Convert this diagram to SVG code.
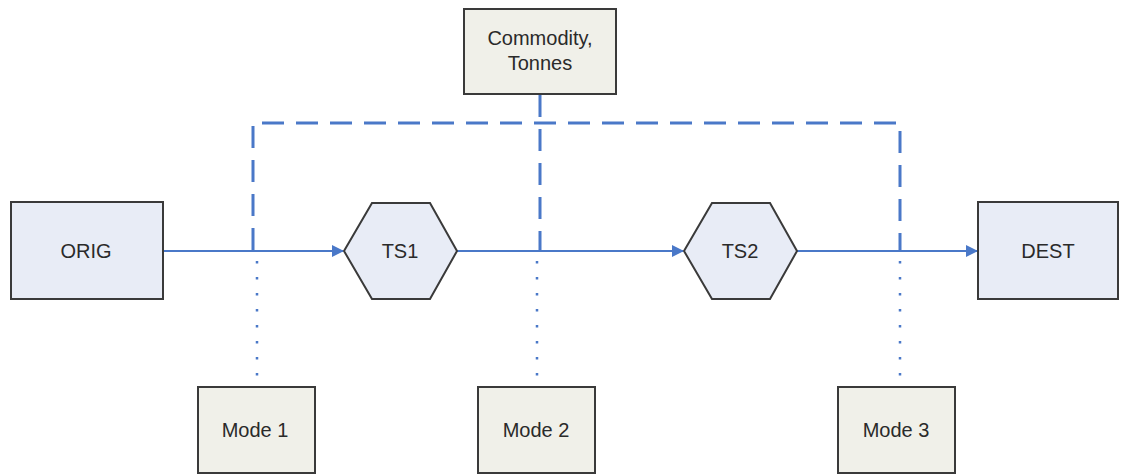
<svg xmlns="http://www.w3.org/2000/svg" width="1122" height="475" viewBox="0 0 1122 475">
<defs>
<style>
.blue{fill:#e8ecf6;stroke:#3a3a3a;stroke-width:2}
.tan{fill:#f0f0e9;stroke:#3a3a3a;stroke-width:2}
text{font-family:"Liberation Sans",Arial,sans-serif;font-size:20px;fill:#2a2a2a;text-anchor:middle}
.flow{stroke:#4a78c8;stroke-width:2;fill:none}
.dash{stroke:#4a78c8;stroke-width:3;fill:none;stroke-dasharray:22 12}
.dot{stroke:#4a78c8;stroke-width:2.5;fill:none;stroke-dasharray:2.5 13.5}
</style>
<marker id="arr" markerWidth="12" markerHeight="12" refX="11" refY="6" orient="auto" markerUnits="userSpaceOnUse">
<path d="M0,0 L12,6 L0,12 Z" fill="#4a78c8"/>
</marker>
</defs>
<rect width="1122" height="475" fill="#ffffff"/>
<g id="connectors">
<path class="flow" d="M163,251 H343" marker-end="url(#arr)"/>
<path class="flow" d="M457,251 H683" marker-end="url(#arr)"/>
<path class="flow" d="M797,251 H977" marker-end="url(#arr)"/>
<path class="dash" d="M540,95 V252"/>
<path class="dash" d="M253,250 V123 H900 V250"/>
<path class="dot" d="M257,261 V387"/>
<path class="dot" d="M537,261 V387"/>
<path class="dot" d="M900,261 V387"/>
</g>
<g id="commodity">
<rect class="tan" x="464" y="9" width="152" height="85"/>
<text x="540" y="45">Commodity,</text>
<text x="540" y="70">Tonnes</text>
</g>
<g id="orig">
<rect class="blue" x="11" y="202" width="152" height="97"/>
<text x="86" y="258">ORIG</text>
</g>
<g id="ts1">
<polygon class="blue" points="344,251 372,203 430,203 457,251 430,299 372,299"/>
<text x="400" y="258">TS1</text>
</g>
<g id="ts2">
<polygon class="blue" points="684,251 712,203 770,203 797,251 770,299 712,299"/>
<text x="740" y="258">TS2</text>
</g>
<g id="dest">
<rect class="blue" x="978" y="202" width="140" height="97"/>
<text x="1048" y="258">DEST</text>
</g>
<g id="mode1">
<rect class="tan" x="198" y="387" width="117" height="86"/>
<text x="255" y="437">Mode 1</text>
</g>
<g id="mode2">
<rect class="tan" x="478" y="387" width="117" height="86"/>
<text x="536" y="437">Mode 2</text>
</g>
<g id="mode3">
<rect class="tan" x="838" y="387" width="117" height="86"/>
<text x="896" y="437">Mode 3</text>
</g>
</svg>
